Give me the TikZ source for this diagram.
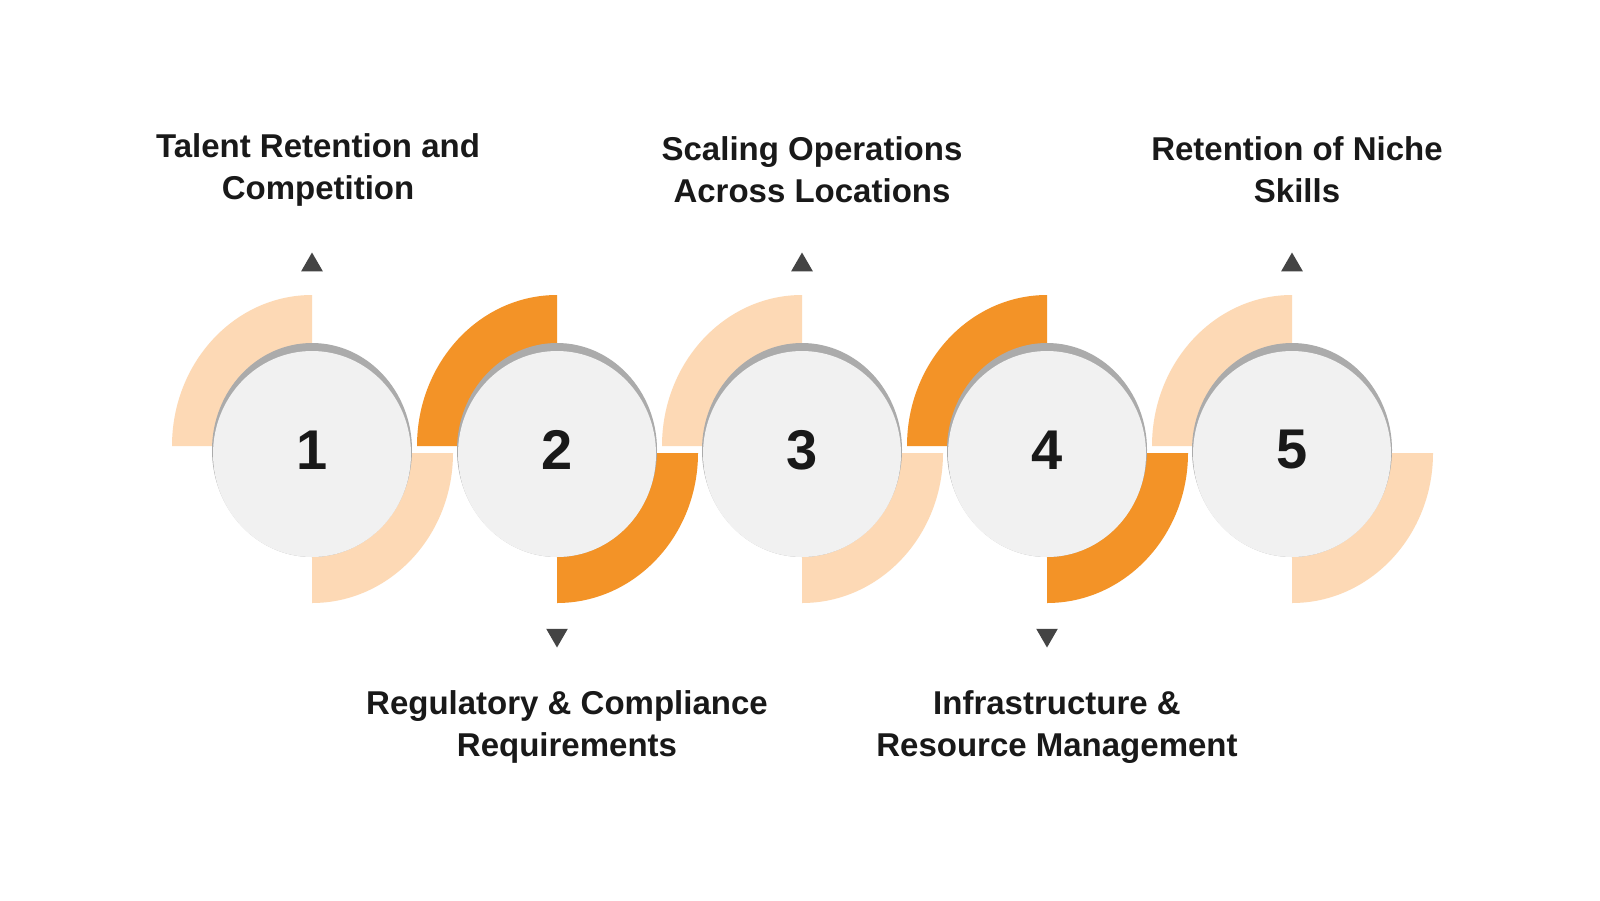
\documentclass[tikz,border=0pt]{standalone}
\usepackage{fontspec}
\setmainfont{Liberation Sans}
\usetikzlibrary{shapes.geometric}
\definecolor{lt}{HTML}{FDD9B5}
\definecolor{dk}{HTML}{F39327}
\definecolor{disc}{HTML}{F1F1F1}
\definecolor{rim}{HTML}{ABABAB}
\definecolor{tri}{HTML}{444444}
\begin{document}
\begin{tikzpicture}[x=1pt,y=-1pt,
  lbl/.style={align=center,font=\fontsize{33}{42}\selectfont\bfseries,text=black!90},
  num/.style={font=\fontsize{56}{60}\selectfont\bfseries,text=black!90},
  up/.style={regular polygon,regular polygon sides=3,fill=tri,inner sep=0pt,minimum size=25pt},
  dn/.style={up,shape border rotate=180}]
\useasboundingbox (0,0) rectangle (1600,900);
\fill[white] (0,0) rectangle (1600,900);
\foreach \i/\cx/\c in {1/312/lt,2/557/dk,3/802/lt,4/1047/dk,5/1292/lt}{
  \fill[\c] (\cx,446) -- (\cx,295) arc[start angle=-90,end angle=-180,x radius=140,y radius=151] -- cycle;
  \fill[\c] (\cx,453) -- (\cx,603) arc[start angle=90,end angle=0,x radius=141,y radius=150] -- cycle;
}
\foreach \i/\cx in {1/312,2/557,3/802,4/1047,5/1292}{
  \fill[rim] (\cx,450) ellipse[x radius=100,y radius=107];
  \fill[disc] (\cx,454) ellipse[x radius=99,y radius=103];
  \node[num] (n\i) at (\cx,450) {\i};
}
\node[up] (t1) at (312,265) {};
\node[up] (t3) at (802,265) {};
\node[up] (t5) at (1292,265) {};
\node[dn] (t2) at (557,635) {};
\node[dn] (t4) at (1047,635) {};
\node[lbl] (l1) at (318,170) {Talent Retention and\\Competition};
\node[lbl] (l3) at (812,170) {Scaling Operations\\Across Locations};
\node[lbl] (l5) at (1297,170) {Retention of Niche\\Skills};
\node[lbl] (l2) at (567,727) {Regulatory \& Compliance\\Requirements};
\node[lbl] (l4) at (1057,727) {Infrastructure \&\\Resource Management};
\end{tikzpicture}
\end{document}
